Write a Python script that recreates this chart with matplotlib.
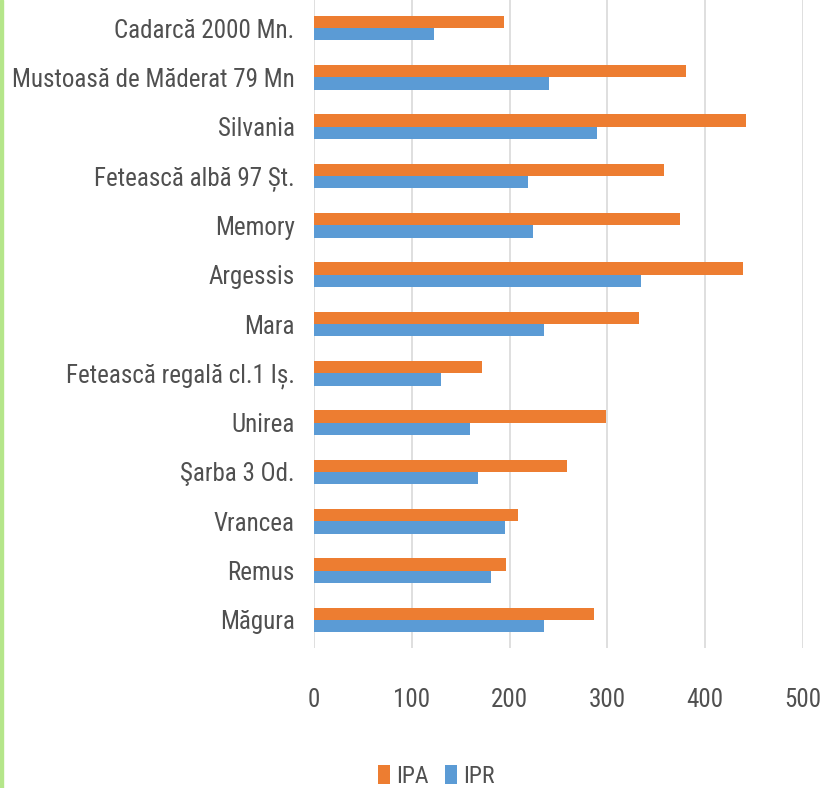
##----------Importing necessary packages-------------
import numpy as np
import matplotlib
matplotlib.use('Agg')
import matplotlib.pyplot as plt
from matplotlib.patches import Rectangle
##--------------------------------------------------

##----------Chart data (top to bottom as in the picture)----------
categories = ['Cadarcă 2000 Mn.', 'Mustoasă de Măderat 79 Mn', 'Silvania',
              'Fetească albă 97 Șt.', 'Memory', 'Argessis', 'Mara',
              'Fetească regală cl.1 Iș.', 'Unirea', 'Şarba 3 Od.', 'Vrancea',
              'Remus', 'Măgura']
ipa = [194, 380, 442, 358, 374, 439, 332, 172, 299, 259, 209, 196, 286]
ipr = [123, 240, 289, 219, 224, 334, 235, 130, 160, 168, 195, 181, 235]
series_names = ['IPA', 'IPR']
x_ticks = [0, 100, 200, 300, 400, 500]
##--------------------------------------------------

## narrow font like the picture, with fallbacks
plt.rcParams['font.family'] = ['Roboto Condensed', 'Carlito', 'DejaVu Sans']

orange = '#ED7D31'
blue = '#5B9BD5'
text_col = '#505050'

fig = plt.figure(figsize=(8.34, 7.88), dpi=100)
ax = fig.add_axes([314 / 834, 1 - 648 / 788, (803 - 314) / 834, 648 / 788])

n = len(categories)
y = np.arange(n)
h = 0.25
ax.barh(y - h / 2, ipa, height=h, color=orange, label=series_names[0], zorder=3)
ax.barh(y + h / 2, ipr, height=h, color=blue, label=series_names[1], zorder=3)

ax.set_xlim(0, 500)
ax.set_ylim(n - 1 + 0.57, -0.57)
ax.set_xticks(x_ticks)
ax.set_xticklabels([str(t) for t in x_ticks], fontsize=18, color=text_col)
ax.set_yticks(y)
ax.set_yticklabels(categories, fontsize=18, color=text_col)
ax.tick_params(length=0)
ax.tick_params(axis='x', pad=29)
ax.tick_params(axis='y', pad=14)
ax.grid(axis='x', color='#d9d9d9', linewidth=1.2, zorder=0)
for s in ax.spines.values():
    s.set_visible(False)

##---legend under the axis
leg = fig.legend(loc='center', bbox_to_anchor=(0.523, 0.015), ncol=2, frameon=False,
                 fontsize=17, handlelength=0.5, handleheight=0.9, handletextpad=0.25,
                 columnspacing=0.7)
for t in leg.get_texts():
    t.set_color(text_col)

##---light green border on the left
fig.patches.append(Rectangle((0, 0), 3 / 834, 1, transform=fig.transFigure,
                             color='#b5e68a', zorder=10))

fig.savefig('out.png', dpi=100)
